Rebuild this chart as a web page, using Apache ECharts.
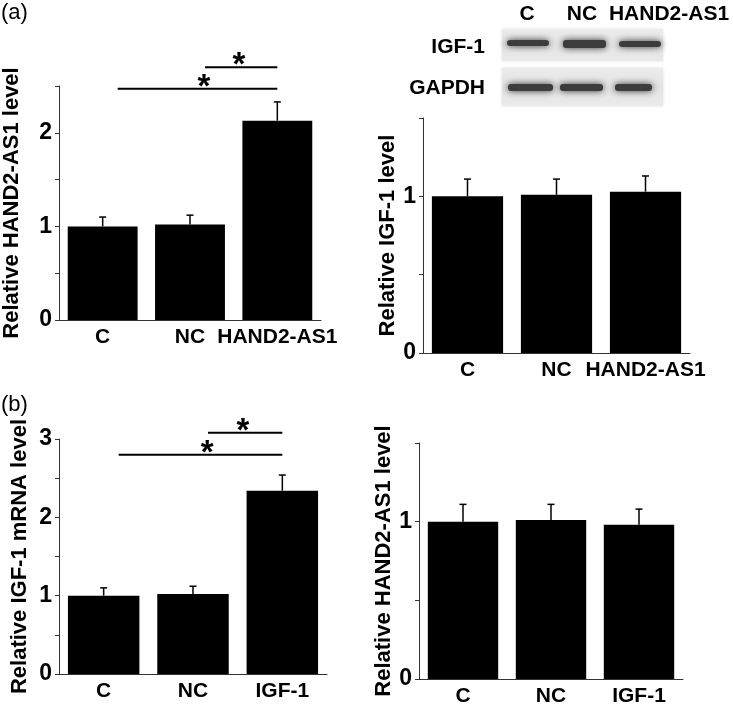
<!DOCTYPE html>
<html><head><meta charset="utf-8">
<script src="https://cdn.jsdelivr.net/npm/echarts@6/dist/echarts.min.js"></script>
<style>html,body{margin:0;padding:0;background:#fff}#c{width:733px;height:707px}</style>
</head><body><div id="c"></div><script>
// ---- data ----
const catsA = ['C', 'NC', 'HAND2-AS1'];
const catsB = ['C', 'NC', 'IGF-1'];
const aLeftMean = [1.00, 1.02, 2.13];
const aLeftErr = [0.10, 0.10, 0.20];
const aRightMean = [1.00, 1.01, 1.03];
const aRightErr = [0.11, 0.10, 0.10];
const bLeftMean = [1.00, 1.02, 2.34];
const bLeftErr = [0.10, 0.10, 0.20];
const bRightMean = [1.00, 1.01, 0.98];
const bRightErr = [0.11, 0.10, 0.10];
// significance brackets: [fromIndex, toIndex, level, starFraction]
const aLeftSig = [[0, 2, 2.47, 0.54], [1, 2, 2.70, 0.47]];
const bLeftSig = [[0, 2, 2.80, 0.54], [1, 2, 3.08, 0.47]];
const blotLanes = ['C', 'NC', 'HAND2-AS1'];
const blotRows = ['IGF-1', 'GAPDH'];
const yTitles = ['Relative HAND2-AS1 level', 'Relative IGF-1 level', 'Relative IGF-1 mRNA level', 'Relative HAND2-AS1 level'];
const yMax = [2.5, 1.5, 3, 1.5];
const panelTags = ['(a)', '(b)'];

// ---- style ----
const FONT = "'Liberation Sans', Arial, sans-serif";
const axisCol = '#333';
const grids = [
  { left: 55, top: 86, width: 266, height: 234 },
  { left: 423, top: 118, width: 267, height: 235 },
  { left: 59, top: 439, width: 268, height: 235 },
  { left: 419, top: 443, width: 264, height: 236 }
];
const nameGaps = [36, 20, 28, 22];

const chart = echarts.init(document.getElementById('c'), null, { renderer: 'canvas' });

const xAxes = [catsA, catsA, catsB, catsB].map((c, i) => ({
  type: 'category', gridIndex: i, data: c,
  axisLine: { lineStyle: { color: axisCol, width: 1 } },
  axisTick: { alignWithLabel: true, length: 4, lineStyle: { color: axisCol } },
  axisLabel: { interval: 0, margin: 7, color: '#000', fontFamily: FONT, fontWeight: 'bold', fontSize: 21 }
}));
const yAxes = yMax.map((m, i) => ({
  type: 'value', gridIndex: i, min: 0, max: m, interval: 0.5,
  name: yTitles[i], nameLocation: 'middle', nameRotate: 90, nameGap: nameGaps[i],
  nameTextStyle: { color: '#000', fontFamily: FONT, fontWeight: 'bold', fontSize: 22 },
  axisLine: { show: true, lineStyle: { color: axisCol, width: 1 } },
  axisTick: { show: true, length: 4, lineStyle: { color: axisCol } },
  splitLine: { show: false },
  axisLabel: {
    margin: 7, color: '#000', fontFamily: FONT, fontWeight: 'bold', fontSize: 23,
    formatter: v => (Math.abs(v - Math.round(v)) < 1e-9 ? String(Math.round(v)) : '')
  }
}));

const means = [aLeftMean, aRightMean, bLeftMean, bRightMean];
const errs = [aLeftErr, aRightErr, bLeftErr, bRightErr];
const series = [];
means.forEach((m, i) => {
  series.push({
    type: 'bar', xAxisIndex: i, yAxisIndex: i, data: m,
    barCategoryGap: '20%', itemStyle: { color: '#000' }, silent: true, z: 2
  });
  series.push({
    type: 'custom', xAxisIndex: i, yAxisIndex: i, z: 3, silent: true,
    data: m.map((v, k) => [k, v, errs[i][k]]),
    encode: { x: 0, y: 1 },
    renderItem: (params, api) => {
      const x = api.value(0), y = api.value(1), e = api.value(2);
      const p0 = api.coord([x, y]), p1 = api.coord([x, y + e]);
      return {
        type: 'group', children: [
          { type: 'line', shape: { x1: p0[0], y1: p0[1], x2: p1[0], y2: p1[1] }, style: { stroke: '#000', lineWidth: 1.5 } },
          { type: 'line', shape: { x1: p1[0] - 3.5, y1: p1[1], x2: p1[0] + 3.5, y2: p1[1] }, style: { stroke: '#000', lineWidth: 1.5 } }
        ]
      };
    }
  });
});
function sigSeries(data, idx) {
  return {
    type: 'custom', xAxisIndex: idx, yAxisIndex: idx, z: 4, silent: true, clip: false,
    data: data, encode: { x: 0, y: 2 },
    renderItem: (params, api) => {
      const f = api.value(0), t = api.value(1), lv = api.value(2), sp = api.value(3);
      const p0 = api.coord([f, lv]), p1 = api.coord([t, lv]);
      const x0 = p0[0] + 15, x1 = p1[0];
      const sx = x0 + (x1 - x0) * sp;
      return {
        type: 'group', children: [
          { type: 'line', shape: { x1: x0, y1: p0[1], x2: x1, y2: p0[1] }, style: { stroke: '#000', lineWidth: 2 } },
          { type: 'text', x: sx, y: p0[1] - 1, style: { text: '*', font: 'bold 33px ' + FONT, align: 'center', verticalAlign: 'middle', fill: '#000' } }
        ]
      };
    }
  };
}
series.push(sigSeries(aLeftSig, 0));
series.push(sigSeries(bLeftSig, 2));

// ---- graphic: panel tags and western blot ----
const graphic = [
  { type: 'text', left: 1, top: 2, style: { text: panelTags[0], font: '22px ' + FONT, fill: '#000' } },
  { type: 'text', left: 1, top: 394, style: { text: panelTags[1], font: '22px ' + FONT, fill: '#000' } }
];
const laneCenters = [527, 582, 669];
blotLanes.forEach((l, k) => {
  graphic.push({ type: 'text', x: laneCenters[k], y: 14, style: { text: l, font: 'bold 21px ' + FONT, fill: '#000', align: 'center', verticalAlign: 'middle' } });
});
const rowY = [47, 88];
blotRows.forEach((r, k) => {
  graphic.push({ type: 'text', x: 485, y: rowY[k], style: { text: r, font: 'bold 21px ' + FONT, fill: '#000', align: 'right', verticalAlign: 'middle' } });
});
// blot panels
const panels = [{ y: 29, h: 32 }, { y: 68, h: 38 }];
panels.forEach(p => graphic.push({
  type: 'rect', shape: { x: 502, y: p.y, width: 161, height: p.h },
  style: {
    fill: { type: 'linear', x: 0, y: 0, x2: 0, y2: 1, colorStops: [{ offset: 0, color: '#ececec' }, { offset: 0.5, color: '#e3e3e3' }, { offset: 1, color: '#ebebeb' }] },
    shadowBlur: 3, shadowColor: 'rgba(220,220,220,0.9)'
  }, z: 1
}));
const bands = [
  [[507, 40, 42, 6], [563, 40, 43, 8], [619, 41, 42, 6]],
  [[508, 84, 45, 7], [560, 84, 43, 7], [615, 84, 37, 7]]
];
bands.forEach(row => row.forEach(b => graphic.push({
  type: 'rect', shape: { x: b[0], y: b[1], width: b[2], height: b[3], r: 3 },
  style: { fill: '#3c3c3c', shadowBlur: 7, shadowColor: 'rgba(40,40,40,0.95)' }, z: 2
})));

chart.setOption({
  animation: false,
  backgroundColor: '#fff',
  grid: grids.map(g => Object.assign({ containLabel: false }, g)),
  xAxis: xAxes, yAxis: yAxes, series: series, graphic: graphic
});
</script></body></html>
